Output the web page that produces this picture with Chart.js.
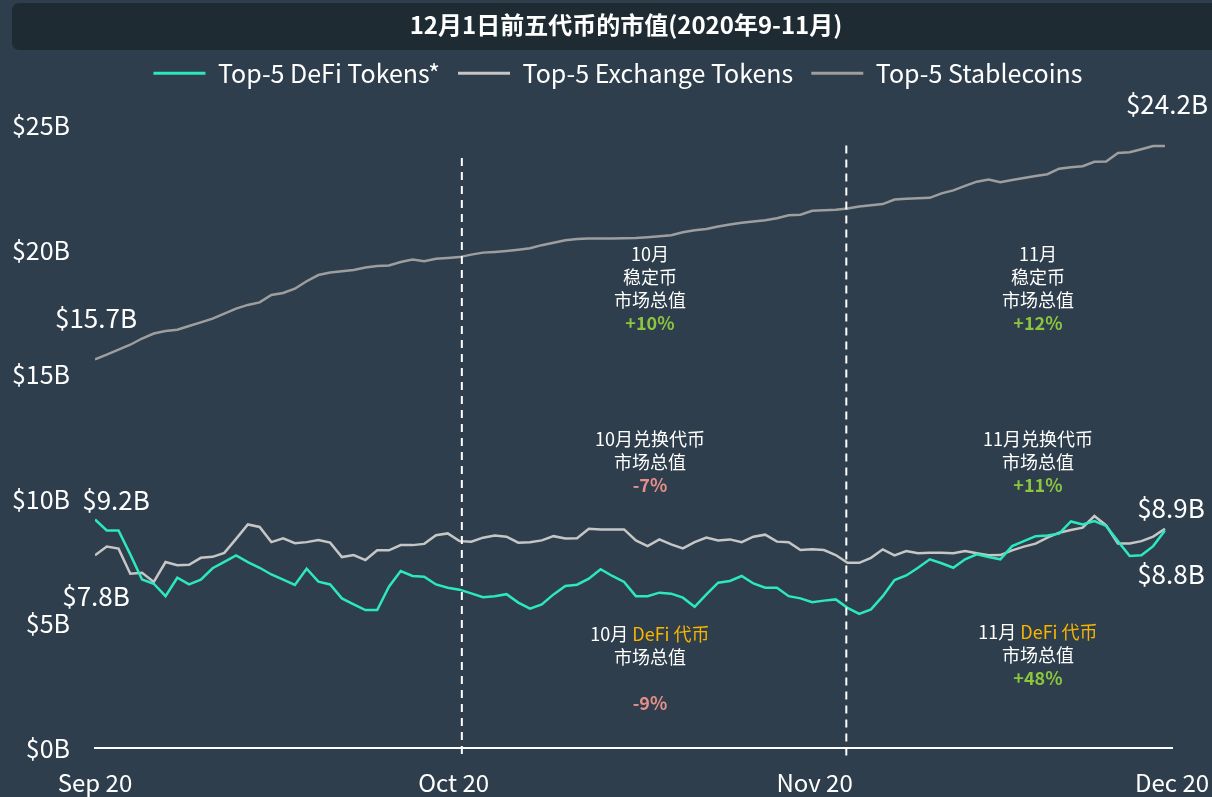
<!DOCTYPE html>
<html>
<head>
<meta charset="utf-8">
<script src="https://cdn.jsdelivr.net/npm/chart.js@4.4.0/dist/chart.umd.min.js"></script>
<style>
    body { margin: 0; background: #2e3e4c; }
    #wrap { width: 1212px; height: 797px; }
</style>
</head>
<body>
<div id="wrap"><canvas id="myChart"></canvas></div>
<script>
// dados diarios, 1 set 2020 ate 1 dez 2020 (bilhoes de USD)
const series = ['Top-5 DeFi Tokens*', 'Top-5 Exchange Tokens', 'Top-5 Stablecoins'];

const defiTokens = [
    9.18, 8.74, 8.74, 7.78, 6.77, 6.60, 6.10, 6.84, 6.57, 6.76,
    7.22, 7.48, 7.74, 7.47, 7.24, 6.97, 6.76, 6.55, 7.20, 6.68,
    6.57, 6.01, 5.77, 5.54, 5.54, 6.48, 7.11, 6.91, 6.88, 6.57,
    6.44, 6.36, 6.21, 6.06, 6.10, 6.18, 5.84, 5.60, 5.77, 6.17,
    6.51, 6.56, 6.80, 7.18, 6.91, 6.67, 6.10, 6.10, 6.24, 6.20,
    6.04, 5.67, 6.17, 6.64, 6.71, 6.91, 6.61, 6.44, 6.44, 6.10,
    6.01, 5.86, 5.92, 5.97, 5.63, 5.39, 5.57, 6.10, 6.75, 6.93,
    7.24, 7.58, 7.42, 7.24, 7.58, 7.78, 7.67, 7.58, 8.11, 8.31,
    8.51, 8.54, 8.61, 9.10, 8.98, 9.12, 8.92, 8.31, 7.71, 7.74,
    8.11, 8.74
];

const exchangeTokens = [
    7.74, 8.09, 8.01, 7.00, 7.04, 6.67, 7.47, 7.34, 7.36, 7.64,
    7.68, 7.84, 8.40, 8.98, 8.88, 8.27, 8.42, 8.23, 8.27, 8.35,
    8.25, 7.67, 7.75, 7.55, 7.94, 7.94, 8.15, 8.15, 8.20, 8.55,
    8.62, 8.31, 8.29, 8.45, 8.54, 8.49, 8.25, 8.27, 8.34, 8.51,
    8.42, 8.43, 8.81, 8.78, 8.78, 8.78, 8.34, 8.11, 8.38, 8.18,
    8.02, 8.27, 8.45, 8.34, 8.38, 8.27, 8.49, 8.57, 8.29, 8.27,
    7.95, 7.98, 7.95, 7.75, 7.44, 7.44, 7.64, 7.98, 7.74, 7.91,
    7.82, 7.84, 7.84, 7.82, 7.91, 7.82, 7.74, 7.75, 7.94, 8.09,
    8.21, 8.45, 8.65, 8.76, 8.85, 9.32, 8.94, 8.22, 8.22, 8.31,
    8.49, 8.81
];

const stablecoins = [
    15.61, 15.80, 16.00, 16.20, 16.45, 16.65, 16.75, 16.80, 16.95, 17.10,
    17.25, 17.45, 17.65, 17.80, 17.90, 18.20, 18.28, 18.45, 18.75, 19.00,
    19.10, 19.15, 19.20, 19.30, 19.36, 19.38, 19.52, 19.62, 19.55, 19.65,
    19.68, 19.72, 19.82, 19.90, 19.93, 19.97, 20.02, 20.08, 20.20, 20.30,
    20.40, 20.45, 20.47, 20.47, 20.47, 20.48, 20.49, 20.52, 20.56, 20.60,
    20.72, 20.80, 20.85, 20.95, 21.03, 21.10, 21.15, 21.20, 21.28, 21.40,
    21.42, 21.58, 21.60, 21.62, 21.67, 21.75, 21.80, 21.85, 22.03, 22.06,
    22.08, 22.10, 22.28, 22.40, 22.58, 22.75, 22.84, 22.73, 22.82, 22.90,
    22.98, 23.05, 23.27, 23.33, 23.37, 23.55, 23.56, 23.90, 23.93, 24.05,
    24.18, 24.18
];

// rotulos do eixo x (posicao em dias desde 1 set)
const tickLabels = ['Sep 20', 'Oct 20', 'Nov 20', 'Dec 20'];
const tickDays = [0, 30.5, 61.2, 91.6];

const fonte = '"Noto Sans CJK SC", "Noto Sans", sans-serif';
const corDefi = '#2ce8bd';
const corExchange = '#c6c6c6';
const corStable = '#9e9e9e';
const verde = '#8cc63f';
const vermelho = '#e58f8a';
const amarelo = '#f7b500';

function pontos(valores) {
    return valores.map((v, i) => ({ x: i, y: v }));
}

// linhas tracejadas que separam os meses
const divisorias = [{ dia: 31.2, topo: 23.7 }, { dia: 63.9, topo: 24.2 }];

// textos dos meses: [texto, cor, negrito]
const notas = [
    { dia: 47.2, valor: 19.85, linhas: [[['10月', '#fff']], [['稳定币', '#fff']], [['市场总值', '#fff']], [['+10%', verde, true]]] },
    { dia: 80.2, valor: 19.85, linhas: [[['11月', '#fff']], [['稳定币', '#fff']], [['市场总值', '#fff']], [['+12%', verde, true]]] },
    { dia: 47.2, valor: 12.42, linhas: [[['10月兑换代币', '#fff']], [['市场总值', '#fff']], [['-7%', vermelho, true]]] },
    { dia: 80.2, valor: 12.42, linhas: [[['11月兑换代币', '#fff']], [['市场总值', '#fff']], [['+11%', verde, true]]] },
    { dia: 47.2, valor: 4.58, linhas: [[['10月 ', '#fff'], ['DeFi 代币', amarelo]], [['市场总值', '#fff']], [], [['-9%', vermelho, true]]] },
    { dia: 80.2, valor: 4.66, linhas: [[['11月 ', '#fff'], ['DeFi 代币', amarelo]], [['市场总值', '#fff']], [['+48%', verde, true]]] }
];

// rotulos de valor nas pontas das linhas
const rotulos = [
    { serie: stablecoins, idx: 0, texto: '$15.7B', dx: 1, dy: -41 },
    { serie: stablecoins, idx: 91, texto: '$24.2B', dx: 2, dy: -42 },
    { serie: defiTokens, idx: 0, texto: '$9.2B', dx: 21, dy: -19 },
    { serie: exchangeTokens, idx: 0, texto: '$7.8B', dx: 1, dy: 41 },
    { serie: exchangeTokens, idx: 91, texto: '$8.9B', dx: 6, dy: -21 },
    { serie: defiTokens, idx: 91, texto: '$8.8B', dx: 6, dy: 44 }
];

const fundoTitulo = {
    id: 'fundoTitulo',
    afterLayout(chart) {
        // desloca titulo e legenda para a direita, como no original
        chart.titleBlock.left += 34;
        chart.titleBlock.right += 34;
        chart.legend.left += 26;
        chart.legend.right += 26;
    },
    beforeDraw(chart) {
        const ctx = chart.ctx;
        ctx.save();
        ctx.fillStyle = '#1f2b33';
        ctx.beginPath();
        ctx.roundRect(12, 3, 1210, 47, 7);
        ctx.fill();
        ctx.restore();
    }
};

const anotacoes = {
    id: 'anotacoes',
    afterDatasetsDraw(chart) {
        const { ctx, scales: { x, y } } = chart;
        ctx.save();

        ctx.strokeStyle = '#ffffff';
        ctx.lineWidth = 2;
        ctx.setLineDash([8, 6]);
        divisorias.forEach((d) => {
            const px = x.getPixelForValue(d.dia);
            ctx.beginPath();
            ctx.moveTo(px, y.getPixelForValue(d.topo));
            ctx.lineTo(px, y.bottom + 10);
            ctx.stroke();
        });
        ctx.setLineDash([]);

        ctx.textBaseline = 'middle';
        ctx.textAlign = 'left';
        notas.forEach((n) => {
            const cx = x.getPixelForValue(n.dia);
            let py = y.getPixelForValue(n.valor);
            n.linhas.forEach((partes) => {
                let larg = 0;
                partes.forEach((p) => {
                    ctx.font = (p[2] ? 'bold ' : '') + '18px ' + fonte;
                    larg += ctx.measureText(p[0]).width;
                });
                let px = cx - larg / 2;
                partes.forEach((p) => {
                    ctx.font = (p[2] ? 'bold ' : '') + '18px ' + fonte;
                    ctx.fillStyle = p[1];
                    ctx.fillText(p[0], px, py);
                    px += ctx.measureText(p[0]).width;
                });
                py += 23;
            });
        });

        ctx.textAlign = 'center';
        ctx.font = '26px ' + fonte;
        ctx.fillStyle = '#ffffff';
        rotulos.forEach((r) => {
            const px = x.getPixelForValue(r.idx) + r.dx;
            const py = y.getPixelForValue(r.serie[r.idx]) + r.dy;
            ctx.fillText(r.texto, px, py);
        });
        ctx.restore();
    }
};

const ctx = document.getElementById('myChart');

new Chart(ctx, {
    type: 'line',
    data: {
        datasets: [
            { label: series[0], data: pontos(defiTokens), borderColor: corDefi, backgroundColor: corDefi },
            { label: series[1], data: pontos(exchangeTokens), borderColor: corExchange, backgroundColor: corExchange },
            { label: series[2], data: pontos(stablecoins), borderColor: corStable, backgroundColor: corStable }
        ]
    },
    options: {
        responsive: true,
        maintainAspectRatio: false,
        animation: false,
        elements: {
            point: { radius: 0 },
            line: { borderWidth: 2.5, tension: 0 }
        },
        layout: {
            padding: { left: 12, right: 40, top: 0, bottom: 0 }
        },
        scales: {
            x: {
                type: 'linear',
                min: 0,
                max: 91.6,
                grid: { display: false, drawTicks: false },
                border: { display: true, color: '#ffffff', width: 2 },
                afterBuildTicks: (axis) => {
                    axis.ticks = tickDays.map((d) => ({ value: d }));
                },
                afterFit: (axis) => {
                    axis.height = 49;
                    axis.paddingLeft = 0;
                    axis.paddingRight = 0;
                },
                ticks: {
                    color: '#ffffff',
                    padding: 20,
                    maxRotation: 0,
                    autoSkip: false,
                    font: { family: fonte, size: 24 },
                    callback: (value) => tickLabels[tickDays.indexOf(value)]
                }
            },
            y: {
                min: 0,
                max: 26.2,
                grid: { display: false, drawTicks: false },
                border: { display: false },
                afterFit: (axis) => { axis.width = 83; },
                ticks: {
                    stepSize: 5,
                    includeBounds: false,
                    color: '#ffffff',
                    padding: 25,
                    font: { family: fonte, size: 25 },
                    callback: (value) => '$' + value + 'B'
                }
            }
        },
        plugins: {
            title: {
                display: true,
                text: '12月1日前五代币的市值(2020年9-11月)',
                color: '#ffffff',
                font: { family: fonte, size: 24, weight: 'bold' },
                padding: { top: 10, bottom: 4 }
            },
            legend: {
                display: true,
                position: 'top',
                labels: {
                    color: '#ffffff',
                    boxWidth: 52,
                    boxHeight: 3,
                    padding: 18,
                    font: { family: fonte, size: 25 },
                    generateLabels(chart) {
                        const items = Chart.defaults.plugins.legend.labels.generateLabels(chart);
                        items.forEach((it) => { it.lineWidth = 0; });
                        return items;
                    }
                }
            },
            tooltip: { enabled: false }
        }
    },
    plugins: [fundoTitulo, anotacoes]
});
</script>
</body>
</html>
